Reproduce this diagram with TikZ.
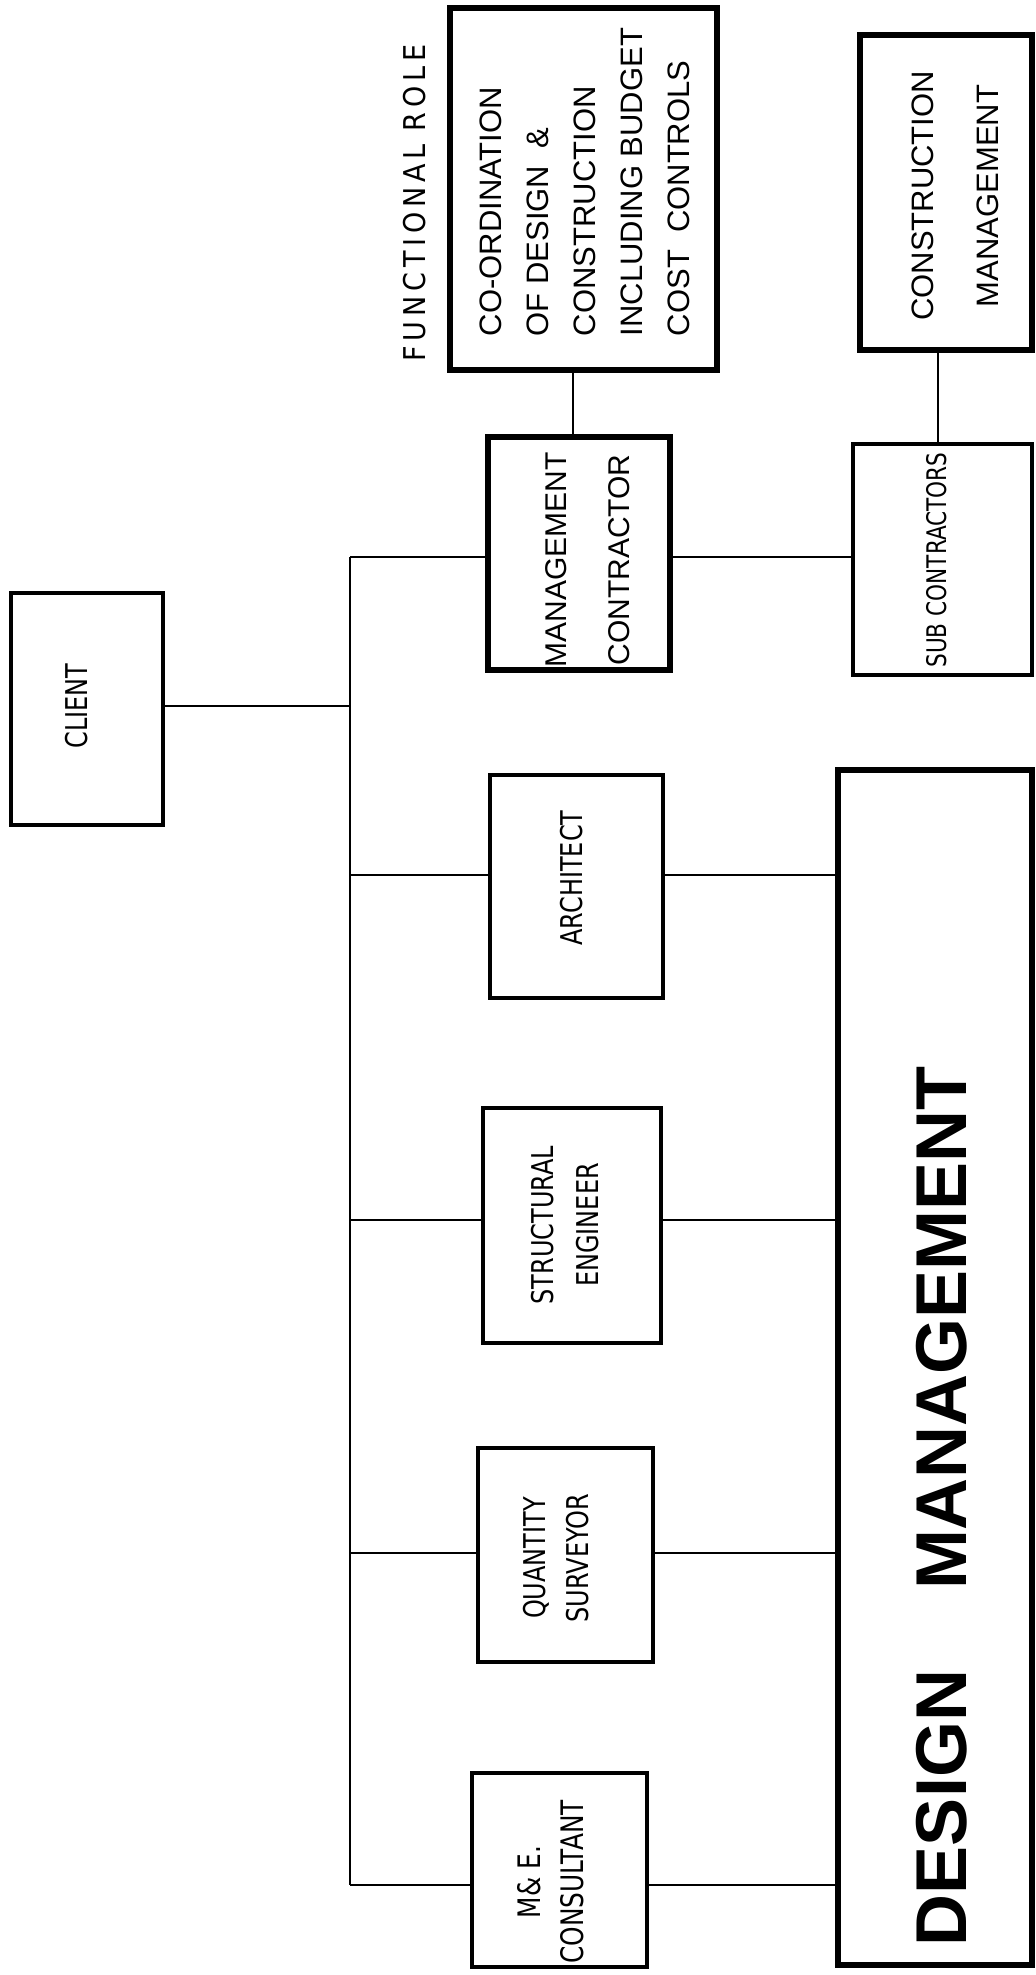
\documentclass[tikz,border=0pt]{standalone}
\usepackage{fontspec}
\usetikzlibrary{fit}
\newfontfamily\stencil[FakeStretch=0.8]{DejaVu Sans}
\newfontfamily\widestencil[FakeStretch=0.9,LetterSpace=16]{DejaVu Sans}
\newfontfamily\helv{Liberation Sans}
\begin{document}
\begin{tikzpicture}[x=0.5pt,y=-0.5pt,
  thinbox/.style={draw,line width=1.7pt,inner sep=0pt,rectangle},
  thickbox/.style={draw,line width=3.4pt,inner sep=0pt,rectangle},
  link/.style={line width=0.8pt},
  stxt/.style={rotate=90,align=center,inner sep=0pt,font=\stencil\fontsize{15}{22.5}\selectfont},
  htxt/.style={rotate=90,inner sep=0pt,font=\helv\fontsize{15}{23.5}\selectfont}]
\useasboundingbox (0,0) rectangle (1035,1975);

% boxes
\node[thinbox,fit={(11,593) (163,825)}] (client) {};
\node[thickbox,fit={(450,8) (717,370)}] (role) {};
\node[thickbox,fit={(488,437) (670,670)}] (mc) {};
\node[thickbox,fit={(860,35) (1032,350)}] (cm) {};
\node[thinbox,fit={(853,444) (1032,675)}] (sub) {};
\node[thinbox,fit={(490,775) (663,998)}] (arch) {};
\node[thinbox,fit={(483,1108) (661,1343)}] (struct) {};
\node[thinbox,fit={(478,1448) (653,1662)}] (qs) {};
\node[thinbox,fit={(472,1773) (647,1967)}] (me) {};
\node[thickbox,line width=3pt,fit={(838,770) (1032,1965)}] (dm) {};

% texts
\node[stxt] (clienttxt) at (77,706) {CLIENT};
\node[stxt,font=\widestencil\fontsize{15}{22}\selectfont] (roletitle) at (415,203) {FUNCTIONAL ROLE};
\node[htxt,align=left,font=\helv\fontsize{15.5}{23.5}\selectfont] (roletxt) at (585,182)
  {CO-ORDINATION\\OF DESIGN \ \&\\CONSTRUCTION\\INCLUDING BUDGET\\COST \ CONTROLS};
\node[htxt,align=center,font=\helv\fontsize{15}{31.5}\selectfont] (mctxt) at (588,560) {MANAGEMENT\\CONTRACTOR};
\node[htxt,align=center,font=\helv\fontsize{15.5}{32.5}\selectfont] (cmtxt) at (955,196) {CONSTRUCTION\\MANAGEMENT};
\node[stxt,font=\stencil\fontsize{13.5}{20}\selectfont] (subtxt) at (937,560) {SUB CONTRACTORS};
\node[stxt] (archtxt) at (572,878) {ARCHITECT};
\node[stxt] (structtxt) at (565,1225) {STRUCTURAL\\ENGINEER};
\node[stxt,font=\stencil\fontsize{15}{21.5}\selectfont] (qstxt) at (556,1558) {QUANTITY\\SURVEYOR};
\node[stxt,font=\stencil\fontsize{15.5}{21.5}\selectfont] (metxt) at (551,1882) {M\& E.\\CONSULTANT};
\node[rotate=90,inner sep=0pt,font=\helv\bfseries\fontsize{36}{40}\selectfont] (dmtxt) at (942,1506)
  {DESIGN\hspace{40pt}MANAGEMENT};

% connectors
\coordinate (trunktop) at (350,557);
\coordinate (trunkbot) at (350,1885);
\draw[link] (client.east |- 0,706) -- (350,706);
\draw[link] (trunktop) -- (trunkbot);
\draw[link] (trunktop) -- (mc.west |- trunktop);
\draw[link] (350,875) -- (arch.west |- 0,875);
\draw[link] (350,1220) -- (struct.west |- 0,1220);
\draw[link] (350,1553) -- (qs.west |- 0,1553);
\draw[link] (trunkbot) -- (me.west |- trunkbot);
\draw[link] (mc.east |- 0,557) -- (sub.west |- 0,557);
\draw[link] (role.south -| 573,0) -- (mc.north -| 573,0);
\draw[link] (cm.south -| 938,0) -- (sub.north -| 938,0);
\draw[link] (arch.east |- 0,875) -- (dm.west |- 0,875);
\draw[link] (struct.east |- 0,1220) -- (dm.west |- 0,1220);
\draw[link] (qs.east |- 0,1553) -- (dm.west |- 0,1553);
\draw[link] (me.east |- 0,1885) -- (dm.west |- 0,1885);
\end{tikzpicture}
\end{document}
